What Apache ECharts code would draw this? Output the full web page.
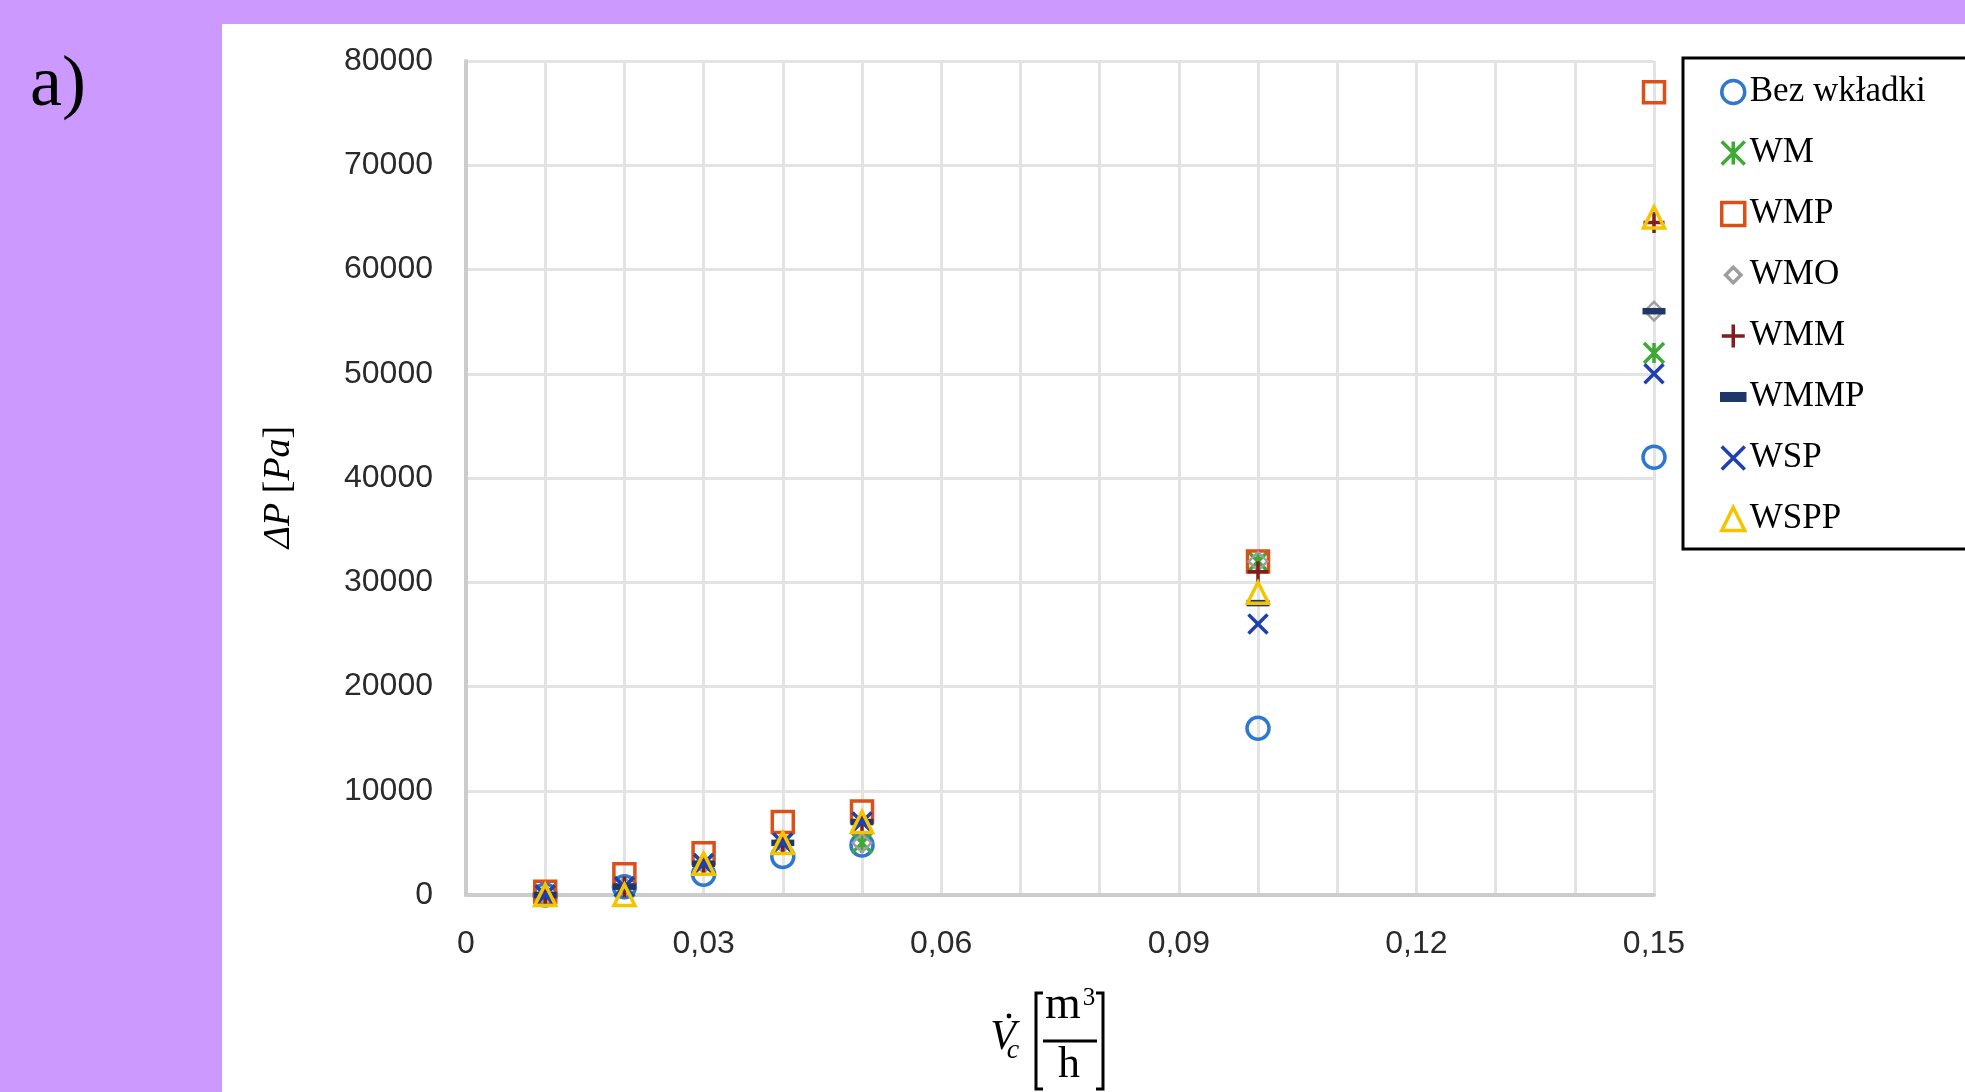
<!DOCTYPE html>
<html>
<head>
<meta charset="utf-8">
<script src="https://cdn.jsdelivr.net/npm/echarts@6/dist/echarts.min.js"></script>
<style>
  html, body { margin: 0; padding: 0; width: 1965px; height: 1092px; overflow: hidden; background: #CC99FF; }
  #panel { position: absolute; left: 222px; top: 24px; right: 0; bottom: 0; background: #ffffff; }
  #chart { position: absolute; left: 0; top: 0; width: 1965px; height: 1092px; }
</style>
</head>
<body>
<div id="panel"></div>
<div id="chart"></div>
<script>
// ---- data ----
const xValues     = [0.01, 0.02, 0.03, 0.04, 0.05, 0.10, 0.15];
const seriesNames = ['Bez wkładki', 'WM', 'WMP', 'WMO', 'WMM', 'WMMP', 'WSP', 'WSPP'];
const bezWkladki  = [0,  800, 2000, 3700, 4800, 16000, 42000];
const wm          = [0,  800, 3000, 5000, 5000, 32000, 52000];
const wmp         = [300, 2000, 4000, 7000, 8000, 32000, 77000];
const wmo         = [0,  800, 3000, 5000, 5000, 32000, 56000];
const wmm         = [0,  800, 3000, 5000, 7000, 31000, 64500];
const wmmp        = [0,  800, 3000, 5000, 7000, 28000, 56000];
const wsp         = [0,  800, 3000, 5000, 7000, 26000, 50000];
const wspp        = [0,    0, 3000, 5000, 7000, 29000, 65000];
const yTickMin = 0, yTickMax = 80000, yTickStep = 10000;
const xTickMin = 0, xTickMax = 0.15, xTickStep = 0.03;

const seriesValues = [bezWkladki, wm, wmp, wmo, wmm, wmmp, wsp, wspp];

// ---- marker styles ----
const T = 'rgba(0,0,0,0)';
const markers = [
  { symbol: 'circle', size: 22, fill: T, stroke: '#2E78D2', bw: 3.5 },
  { symbol: 'path://M0,0L10,10M10,0L0,10M5,0L5,10', size: 20, fill: T, stroke: '#3DAA35', bw: 3.5 },
  { symbol: 'rect', size: 21, fill: T, stroke: '#DB5018', bw: 3.5 },
  { symbol: 'path://M-2.5,-2.5M12.5,12.5M5,0L10,5L5,10L0,5Z', size: 28, fill: T, stroke: '#9E9E9E', bw: 2.5 },
  { symbol: 'path://M5,0L5,10M0,5L10,5', size: 21, fill: T, stroke: '#7E1E1E', bw: 3.5 },
  { symbol: 'path://M0,0L10,0L10,2.8L0,2.8Z', size: [23, 6.5], fill: '#1F3768', stroke: '#1F3768', bw: 0 },
  { symbol: 'path://M0,0L10,10M10,0L0,10', size: 19, fill: T, stroke: '#1E40B0', bw: 3.5 },
  { symbol: 'triangle', size: 21, fill: T, stroke: '#F5C400', bw: 3.5 }
];

const series = seriesNames.map((name, k) => ({
  name: name,
  type: 'scatter',
  data: xValues.map((x, i) => [x, seriesValues[k][i]]),
  symbol: markers[k].symbol,
  symbolSize: markers[k].size,
  itemStyle: {
    color: markers[k].fill,
    borderColor: markers[k].stroke,
    borderWidth: markers[k].bw,
    opacity: 1
  },
  emphasis: { disabled: true }
}));

const gridLine = { color: '#E3E3E3', width: 3 };
const axisLine = { color: '#CCCCCC', width: 4 };
const tickFont = { fontFamily: '"Liberation Sans", Arial, sans-serif', fontSize: 32, color: '#2a2a2a' };

const chart = echarts.init(document.getElementById('chart'), null, { renderer: 'canvas' });
chart.setOption({
  backgroundColor: 'transparent',
  animation: false,
  grid: { left: 466, right: 311, top: 61, bottom: 197, containLabel: false },
  xAxis: {
    type: 'value',
    min: xTickMin, max: xTickMax, interval: xTickStep,
    axisLine: { show: true, lineStyle: axisLine },
    axisTick: { show: false },
    minorTick: { show: false, splitNumber: 3 },
    splitLine: { show: true, lineStyle: gridLine },
    minorSplitLine: { show: true, lineStyle: gridLine },
    axisLabel: Object.assign({
      margin: 33,
      formatter: v => (Math.abs(v) < 1e-9 ? '0' : v.toFixed(2).replace('.', ','))
    }, tickFont)
  },
  yAxis: {
    type: 'value',
    min: yTickMin, max: yTickMax, interval: yTickStep,
    axisLine: { show: true, lineStyle: axisLine },
    axisTick: { show: false },
    splitLine: { show: true, lineStyle: gridLine },
    axisLabel: Object.assign({ margin: 33, formatter: v => String(Math.round(v)) }, tickFont),
    name: '{i|ΔP} [{i|Pa}]',
    nameLocation: 'middle',
    nameRotate: 90,
    nameGap: 168,
    nameTextStyle: {
      fontFamily: '"Liberation Serif", serif',
      fontSize: 38,
      color: '#000',
      padding: [0, 18, 0, 0],
      rich: { i: { fontFamily: '"Liberation Serif", serif', fontStyle: 'italic', fontSize: 38, color: '#000' } }
    }
  },
  legend: {
    orient: 'vertical',
    left: 1683,
    top: 58,
    padding: [16, 400, 12, 37],
    backgroundColor: '#ffffff',
    borderColor: '#000000',
    borderWidth: 3,
    itemWidth: 23,
    itemHeight: 23,
    itemGap: 25,
    itemStyle: { borderWidth: 3.5 },
    selectedMode: false,
    textStyle: { fontFamily: '"Liberation Serif", "Times New Roman", serif', fontSize: 35, lineHeight: 36, color: '#000', padding: [0, 0, 0, 0] },
    data: seriesNames
  },
  graphic: [
    { type: 'text', x: 30, y: 86, style: { text: 'a)', font: '72px "Liberation Serif", serif', fill: '#000', align: 'left', verticalAlign: 'middle', textAlign: 'left', textVerticalAlign: 'middle' } },
    // x axis title:  V̇c [m³/h]
    { type: 'text', x: 1003, y: 1038, style: { text: 'V', font: 'italic 42px "Liberation Serif", serif', fill: '#000', align: 'center', verticalAlign: 'middle', textAlign: 'center', textVerticalAlign: 'middle' } },
    { type: 'circle', shape: { cx: 1009, cy: 1016, r: 2.4 }, style: { fill: '#000' } },
    { type: 'text', x: 1013, y: 1051, style: { text: 'c', font: 'italic 28px "Liberation Serif", serif', fill: '#000', align: 'center', verticalAlign: 'middle', textAlign: 'center', textVerticalAlign: 'middle' } },
    { type: 'polyline', shape: { points: [[1043, 993], [1036, 993], [1036, 1089], [1043, 1089]] }, style: { stroke: '#000', lineWidth: 3, fill: null } },
    { type: 'polyline', shape: { points: [[1096, 993], [1103, 993], [1103, 1089], [1096, 1089]] }, style: { stroke: '#000', lineWidth: 3, fill: null } },
    { type: 'text', x: 1063, y: 1006, style: { text: 'm', font: '46px "Liberation Serif", serif', fill: '#000', align: 'center', verticalAlign: 'middle', textAlign: 'center', textVerticalAlign: 'middle' } },
    { type: 'text', x: 1089, y: 998, style: { text: '3', font: '25px "Liberation Serif", serif', fill: '#000', align: 'center', verticalAlign: 'middle', textAlign: 'center', textVerticalAlign: 'middle' } },
    { type: 'rect', shape: { x: 1043, y: 1039.5, width: 54, height: 3 }, style: { fill: '#000' } },
    { type: 'text', x: 1069, y: 1065, style: { text: 'h', font: '44px "Liberation Serif", serif', fill: '#000', align: 'center', verticalAlign: 'middle', textAlign: 'center', textVerticalAlign: 'middle' } }
  ],
  series: series
});
</script>
</body>
</html>
